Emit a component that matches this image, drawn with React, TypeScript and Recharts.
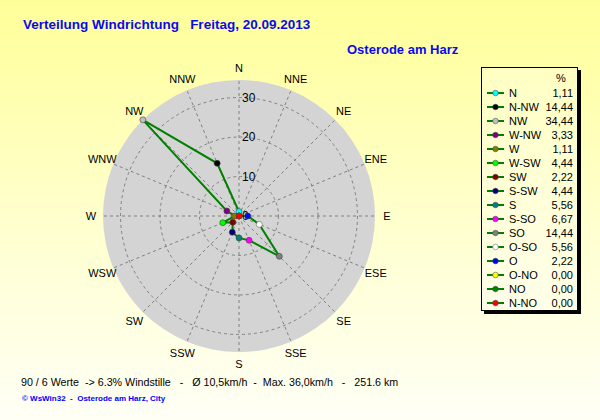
import React from 'react';
import { RadarChart, Radar, PolarAngleAxis, PolarRadiusAxis } from 'recharts';

// Directions in legend order (counter-clockwise from north)
const legendNames = ['N', 'N-NW', 'NW', 'W-NW', 'W', 'W-SW', 'SW', 'S-SW', 'S', 'S-SO', 'SO', 'O-SO', 'O', 'O-NO', 'NO', 'N-NO'];
const angleLabels = ['N', 'NNW', 'NW', 'WNW', 'W', 'WSW', 'SW', 'SSW', 'S', 'SSE', 'SE', 'ESE', 'E', 'ENE', 'NE', 'NNE'];
const percentValues = [1.11, 14.44, 34.44, 3.33, 1.11, 4.44, 2.22, 4.44, 5.56, 6.67, 14.44, 5.56, 2.22, 0, 0, 0];
const radiusTicks = [0, 10, 20, 30];
const markerColors = ['#00ffff', '#000000', '#c0c0c0', '#800080', '#808000', '#00ff00', '#800000', '#000080', '#008080', '#ff00ff', '#808080', '#ffffff', '#0000ff', '#ffff00', '#008000', '#ff0000'];

const titleText = 'Verteilung Windrichtung   Freitag, 20.09.2013';
const subtitleText = 'Osterode am Harz';
const footerText = '90 / 6 Werte  -> 6.3% Windstille   -   Ø 10,5km/h  -  Max. 36,0km/h   -   251.6 km';
const creditText = '© WsWin32  -  Osterode am Harz, City';

const maxValue = Math.max(...percentValues);
const n = legendNames.length;

// chart data in clockwise order (N, NNE, NE, ...), built from the legend-order arrays
const chartData = angleLabels.map((_, j) => {
  const li = (n - j) % n;
  return {
    dir: angleLabels[li],
    value: percentValues[li],
    bg: maxValue,
    li,
  };
});
const topDotLegendIndex = n - 1; // N-NO marker drawn on top at the centre

const FONT = '"Liberation Sans", Arial, sans-serif';
const fmt = (v: number) => v.toFixed(2).replace('.', ',');

const BackgroundShape = (props: any) => {
  const pts = props.points || [];
  if (!pts.length) return null;
  const p0 = pts[0];
  const cx = p0.cx;
  const cy = p0.cy;
  const R = p0.radius;
  const perUnit = R / p0.value;
  return (
    <g>
      <circle cx={cx} cy={cy} r={R} fill="#d4d4d4" stroke="none" />
      {pts.map((p: any, i: number) => (
        <line key={'s' + i} x1={cx} y1={cy} x2={p.x} y2={p.y} stroke="#808080" strokeWidth={1} strokeDasharray="3 3" />
      ))}
      {radiusTicks.filter((t) => t > 0).map((t) => (
        <circle key={'c' + t} cx={cx} cy={cy} r={t * perUnit} fill="none" stroke="#808080" strokeWidth={1} strokeDasharray="3 3" />
      ))}
    </g>
  );
};

const AngleTick = (props: any) => {
  const { payload, cx, cy, radius } = props;
  const ang = (payload.coordinate * Math.PI) / 180;
  const r = radius + 12;
  const x = cx + r * Math.cos(-ang);
  const y = cy + r * Math.sin(-ang);
  return (
    <text x={x} y={y} textAnchor="middle" dominantBaseline="central" fontSize={11} fontFamily={FONT} fill="#000">
      {payload.value}
    </text>
  );
};

const RadiusTick = (props: any) => {
  const { x, y, payload } = props;
  return (
    <text x={x + 3} y={y} textAnchor="start" dominantBaseline="central" fontSize={12} fontFamily={FONT} fill="#000">
      {payload.value}
    </text>
  );
};

const markerStroke = (c: string) => (c === '#ffffff' ? '#606060' : '#404040');

const Dot = (props: any) => {
  const { cx, cy, index, payload } = props;
  const li = payload && payload.li !== undefined ? payload.li : chartData[index].li;
  const c = markerColors[li];
  return <circle key={'d' + index} cx={cx} cy={cy} r={3} fill={c} stroke={markerStroke(c)} strokeWidth={0.6} />;
};

const TopDot = (props: any) => {
  const { cx, cy, index } = props;
  if (chartData[index].li !== topDotLegendIndex) return <g key={'t' + index} />;
  const c = markerColors[topDotLegendIndex];
  return <circle key={'t' + index} cx={cx} cy={cy} r={3} fill={c} stroke={markerStroke(c)} strokeWidth={0.6} />;
};

export default function App() {
  return (
    <div
      style={{
        position: 'absolute',
        left: 0,
        top: 0,
        width: 600,
        height: 420,
        overflow: 'hidden',
        background: 'linear-gradient(to bottom, #ffff99 0%, #ffffcc 50%, #fffff6 100%)',
        fontFamily: FONT,
      }}
    >
      <div style={{ position: 'absolute', left: 23, top: 16, fontSize: 13.5, fontWeight: 'bold', color: '#0a0aee', whiteSpace: 'pre', lineHeight: '18px' }}>
        {titleText}
      </div>
      <div style={{ position: 'absolute', left: 347, top: 41, fontSize: 13, fontWeight: 'bold', color: '#0a0aee', whiteSpace: 'pre', lineHeight: '18px' }}>
        {subtitleText}
      </div>

      <div style={{ position: 'absolute', left: 0, top: 0 }}>
        <RadarChart width={600} height={420} data={chartData} cx={239} cy={216} outerRadius={136} startAngle={90} endAngle={-270} margin={{ top: 0, right: 0, bottom: 0, left: 0 }}>
          <PolarAngleAxis dataKey="dir" tick={<AngleTick />} axisLine={false} tickLine={false} />
          <PolarRadiusAxis angle={90} type="number" domain={[0, maxValue]} ticks={radiusTicks} tick={<RadiusTick />} axisLine={false} tickLine={false} />
          <Radar dataKey="bg" isAnimationActive={false} shape={<BackgroundShape />} stroke="none" fill="none" dot={false} />
          <Radar dataKey="value" isAnimationActive={false} stroke="#008000" strokeWidth={2} fill="none" fillOpacity={0} dot={<Dot />} />
          <Radar dataKey="value" isAnimationActive={false} stroke="none" fill="none" fillOpacity={0} dot={<TopDot />} legendType="none" />
        </RadarChart>
      </div>

      <div
        style={{
          position: 'absolute',
          left: 481,
          top: 67,
          width: 95,
          height: 242,
          border: '1px solid #000',
          boxShadow: '3px 3px 0 #000',
          background: 'rgba(255,255,255,0.3)',
        }}
      >
        <div style={{ position: 'absolute', left: 74, top: 3, fontSize: 11, lineHeight: '14px' }}>%</div>
        {legendNames.map((name, i) => (
          <div key={name} style={{ position: 'absolute', left: 0, top: 18 + i * 14, width: 95, height: 14, fontSize: 11, lineHeight: '14px' }}>
            <svg width={20} height={14} style={{ position: 'absolute', left: 4, top: 0 }}>
              <line x1={1} y1={7} x2={18} y2={7} stroke="#008000" strokeWidth={2} />
              <circle cx={9.5} cy={7} r={2.8} fill={markerColors[i]} stroke={markerStroke(markerColors[i])} strokeWidth={0.5} />
            </svg>
            <span style={{ position: 'absolute', left: 27, top: 0 }}>{name}</span>
            <span style={{ position: 'absolute', right: 4, top: 0 }}>{fmt(percentValues[i])}</span>
          </div>
        ))}
      </div>

      <div style={{ position: 'absolute', left: 21, top: 375, fontSize: 10.7, whiteSpace: 'pre', lineHeight: '14px', color: '#000' }}>
        {footerText}
      </div>
      <div style={{ position: 'absolute', left: 22, top: 394, fontSize: 8, fontWeight: 'bold', whiteSpace: 'pre', lineHeight: '10px', color: '#0000ff' }}>
        {creditText}
      </div>
    </div>
  );
}
